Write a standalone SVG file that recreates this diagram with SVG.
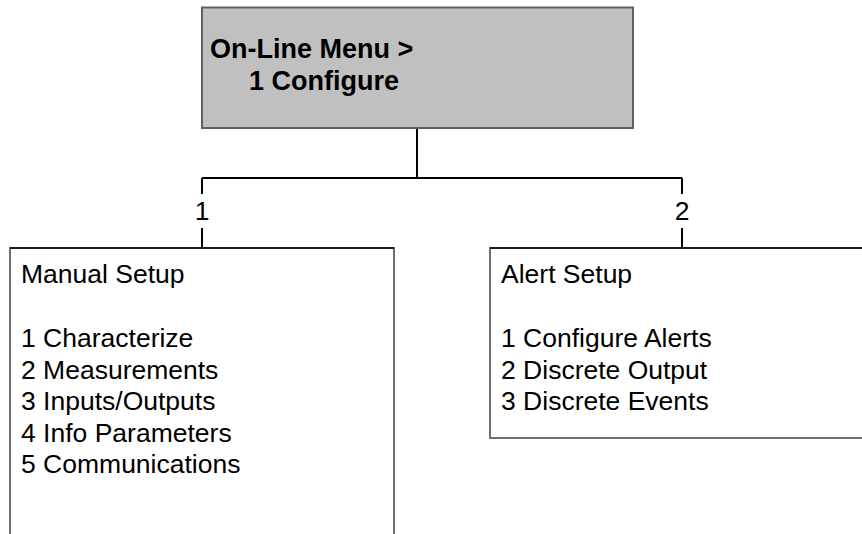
<svg xmlns="http://www.w3.org/2000/svg" width="862" height="534" viewBox="0 0 862 534">
<style>
  .t { font-family: "Liberation Sans", Arial, sans-serif; font-size: 26.5px; fill: #000; }
  .b { font-family: "Liberation Sans", Arial, sans-serif; font-size: 27px; font-weight: bold; fill: #000; }
  .box { fill: #fff; stroke: #707070; stroke-width: 2; }
  .edge { stroke: #000; stroke-width: 1.5; fill: none; }
  .conn { stroke: #000; stroke-width: 2; fill: none; }
</style>
<rect width="862" height="534" fill="#fff"/>
<g id="connectors">
  <path class="conn" d="M417 128 V178 M202 178 H682 M202 178 V194 M202 228 V248 M682 178 V194 M682 228 V248"/>
  <text class="t" x="202" y="220" text-anchor="middle">1</text>
  <text class="t" x="682" y="220" text-anchor="middle">2</text>
</g>
<g id="configure">
  <rect x="202" y="7.5" width="431" height="120.5" fill="#c0c0c0" stroke="#606060" stroke-width="2"/>
  <text class="b" x="210" y="58">On-Line Menu &gt;</text>
  <text class="b" x="249" y="90">1 Configure</text>
</g>
<g id="manual-setup">
  <rect class="box" x="10" y="248" width="384" height="300"/>
  <path class="edge" d="M10 248 H394"/>
  <text class="t" x="21" y="283">Manual Setup</text>
  <text class="t" x="21" y="347">1 Characterize</text>
  <text class="t" x="21" y="378.5">2 Measurements</text>
  <text class="t" x="21" y="410">3 Inputs/Outputs</text>
  <text class="t" x="21" y="441.5">4 Info Parameters</text>
  <text class="t" x="21" y="473">5 Communications</text>
</g>
<g id="alert-setup">
  <rect class="box" x="490" y="248" width="390" height="190"/>
  <path class="edge" d="M490 248 H862"/>
  <text class="t" x="501" y="283">Alert Setup</text>
  <text class="t" x="501" y="347">1 Configure Alerts</text>
  <text class="t" x="501" y="378.5">2 Discrete Output</text>
  <text class="t" x="501" y="410">3 Discrete Events</text>
</g>
</svg>
